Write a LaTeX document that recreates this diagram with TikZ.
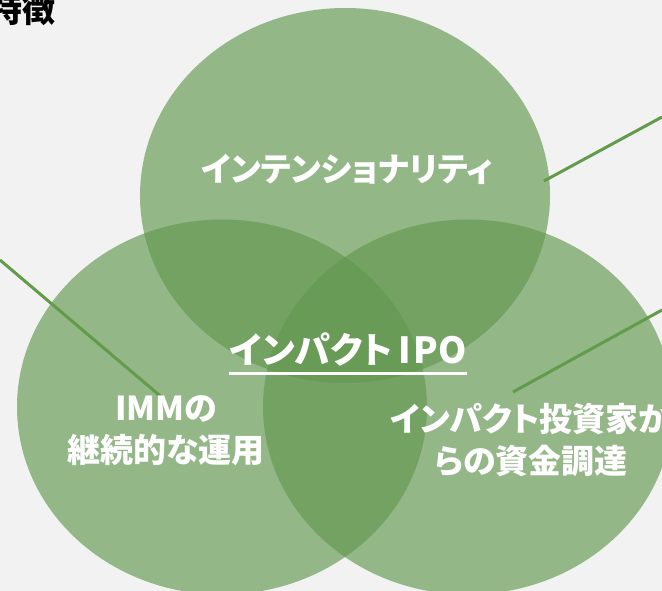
\documentclass[tikz,border=0pt]{standalone}
\usepackage{fontspec}
\setmainfont{Noto Sans CJK JP}[RawFeature=+palt]
\definecolor{bgcol}{RGB}{242,242,242}
\definecolor{circcol}{RGB}{98,152,80}
\definecolor{linecol}{RGB}{98,155,74}
\usetikzlibrary{shapes.geometric}
\tikzset{
  circ/.style={ellipse, minimum width=410pt, minimum height=375pt, inner sep=0pt, fill=circcol, fill opacity=0.65},
  conn/.style={draw=linecol, line width=3pt},
  lbl/.style={text=white, font=\bfseries\fontsize{33}{42}\selectfont, align=center, inner sep=0pt},
}
\begin{document}
\begin{tikzpicture}[x=1pt,y=-1pt]
\fill[bgcol] (0,0) rectangle (662,591);
\useasboundingbox (0,0) rectangle (662,591);
\node[circ] (top) at (345,195.5) {};
\node[circ] (left) at (222,407) {};
\node[circ] (right) at (468,407) {};
\coordinate (tlA) at (0,260);
\coordinate (tlB) at (165,400);
\coordinate (trA) at (662,117);
\coordinate (trB) at (544,181);
\coordinate (brA) at (662,310);
\coordinate (brB) at (513,392);
\draw[conn] (tlA) -- (tlB);
\draw[conn] (trA) -- (trB);
\draw[conn] (brA) -- (brB);
\node[anchor=base east, font=\bfseries\fontsize{33}{33}\selectfont, inner sep=0pt] (title) at (56,23) {特徴};
\node[lbl] (intent) at (347,169) {インテンショナリティ};
\node[lbl, font=\bfseries\fontsize{36}{42}\selectfont] (ipo) at (348,349) {インパクト{\addfontfeature{LetterSpace=6}\,IP}O};
\draw[white, line width=3pt] ([yshift=-10pt]ipo.base west) -- ([yshift=-10pt]ipo.base east);
\node[lbl] (imm) at (166,431) {IMMの\\継続的な運用};
\node[lbl] (inv) at (531,440) {インパクト投資家か\\らの資金調達};
\end{tikzpicture}
\end{document}
